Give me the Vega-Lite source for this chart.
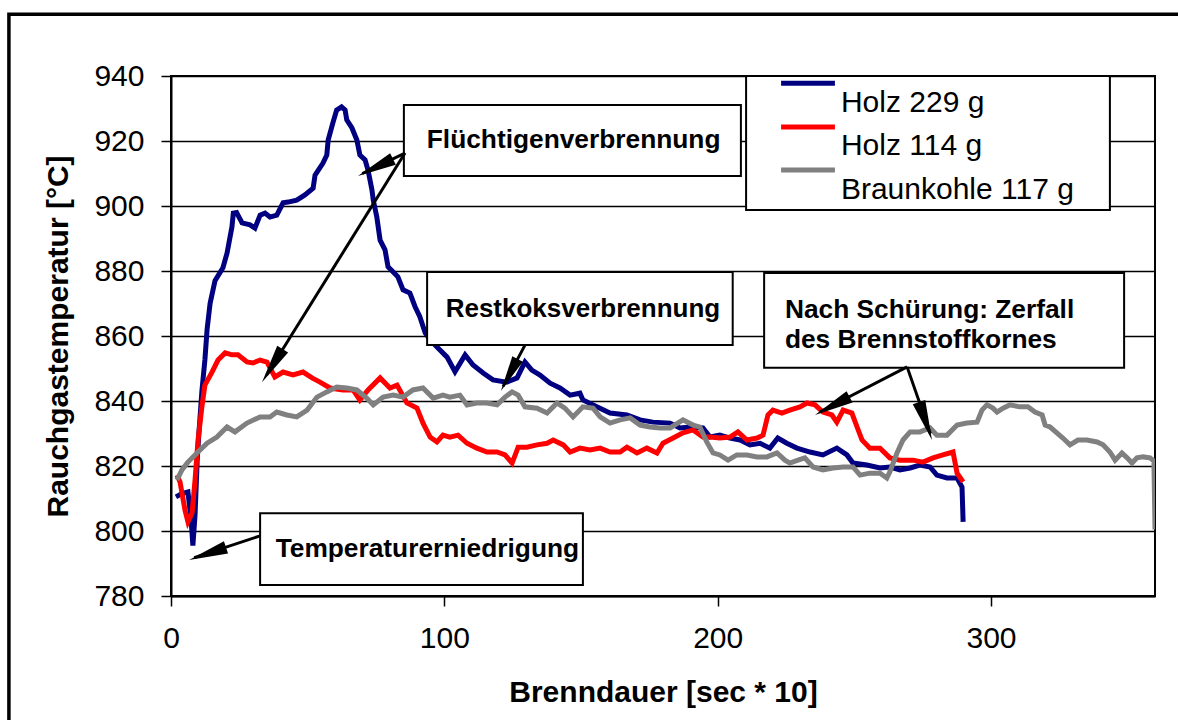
{
  "$schema": "https://vega.github.io/schema/vega-lite/v6.json",
  "width": 984,
  "height": 520,
  "autosize": {"type": "none"},
  "padding": {"left": 171, "top": 76, "right": 23, "bottom": 124},
  "background": "white",
  "config": {
    "view": {"stroke": "black", "strokeWidth": 2},
    "font": "Liberation Sans",
    "axis": {
      "labelFont": "Liberation Sans", "labelFontSize": 30, "labelColor": "black", "labelFlush": false,
      "titleFont": "Liberation Sans", "titleFontSize": 30, "titleFontWeight": "bold", "titleColor": "black",
      "domainColor": "black", "domainWidth": 2, "tickColor": "black", "tickWidth": 1.5, "tickSize": 10,
      "gridColor": "black", "gridWidth": 1.5, "gridOpacity": 1, "labelPadding": 17
    }
  },
  "data": {"values": [
    {"Serie":"Holz 229 g","t":1.8,"T":810.5},{"Serie":"Holz 229 g","t":4,"T":811.5},{"Serie":"Holz 229 g","t":6.2,"T":812},{"Serie":"Holz 229 g","t":7.4,"T":803},{"Serie":"Holz 229 g","t":8,"T":795.5},{"Serie":"Holz 229 g","t":8.8,"T":805},{"Serie":"Holz 229 g","t":9.6,"T":822},{"Serie":"Holz 229 g","t":10.2,"T":830},{"Serie":"Holz 229 g","t":11.3,"T":843},{"Serie":"Holz 229 g","t":12.4,"T":852.6},{"Serie":"Holz 229 g","t":13.2,"T":862},{"Serie":"Holz 229 g","t":14.3,"T":870},{"Serie":"Holz 229 g","t":16.1,"T":877},{"Serie":"Holz 229 g","t":19,"T":881},{"Serie":"Holz 229 g","t":20.5,"T":885.5},{"Serie":"Holz 229 g","t":22.3,"T":893.6},{"Serie":"Holz 229 g","t":22.8,"T":897.8},{"Serie":"Holz 229 g","t":24,"T":898},{"Serie":"Holz 229 g","t":26,"T":894.8},{"Serie":"Holz 229 g","t":28.9,"T":894.2},{"Serie":"Holz 229 g","t":30.7,"T":893.2},{"Serie":"Holz 229 g","t":32.6,"T":897.2},{"Serie":"Holz 229 g","t":34.4,"T":897.8},{"Serie":"Holz 229 g","t":36.2,"T":896.6},{"Serie":"Holz 229 g","t":38.7,"T":897.2},{"Serie":"Holz 229 g","t":41,"T":901},{"Serie":"Holz 229 g","t":42.8,"T":901.2},{"Serie":"Holz 229 g","t":46,"T":901.8},{"Serie":"Holz 229 g","t":49,"T":903.4},{"Serie":"Holz 229 g","t":52,"T":905.5},{"Serie":"Holz 229 g","t":52.7,"T":909.5},{"Serie":"Holz 229 g","t":55.6,"T":913.2},{"Serie":"Holz 229 g","t":57,"T":915.7},{"Serie":"Holz 229 g","t":57.5,"T":920.3},{"Serie":"Holz 229 g","t":59.3,"T":925.8},{"Serie":"Holz 229 g","t":60.6,"T":929.5},{"Serie":"Holz 229 g","t":62.4,"T":930.5},{"Serie":"Holz 229 g","t":63.7,"T":929.5},{"Serie":"Holz 229 g","t":64.3,"T":926.5},{"Serie":"Holz 229 g","t":66.2,"T":924},{"Serie":"Holz 229 g","t":68,"T":920.3},{"Serie":"Holz 229 g","t":69.1,"T":915.7},{"Serie":"Holz 229 g","t":71,"T":914.2},{"Serie":"Holz 229 g","t":72.1,"T":911},{"Serie":"Holz 229 g","t":73.5,"T":905},{"Serie":"Holz 229 g","t":74,"T":901.8},{"Serie":"Holz 229 g","t":75.3,"T":896.6},{"Serie":"Holz 229 g","t":76.5,"T":889.5},{"Serie":"Holz 229 g","t":78.3,"T":886.5},{"Serie":"Holz 229 g","t":79.4,"T":881.3},{"Serie":"Holz 229 g","t":81.3,"T":879.7},{"Serie":"Holz 229 g","t":83,"T":878.2},{"Serie":"Holz 229 g","t":84.9,"T":874.2},{"Serie":"Holz 229 g","t":87.4,"T":873.2},{"Serie":"Holz 229 g","t":89.3,"T":869},{"Serie":"Holz 229 g","t":91,"T":866},{"Serie":"Holz 229 g","t":93,"T":861},{"Serie":"Holz 229 g","t":94.8,"T":858.8},{"Serie":"Holz 229 g","t":98.4,"T":855.7},{"Serie":"Holz 229 g","t":101,"T":853.5},{"Serie":"Holz 229 g","t":103.9,"T":849},{"Serie":"Holz 229 g","t":107.6,"T":854.2},{"Serie":"Holz 229 g","t":110.5,"T":851.1},{"Serie":"Holz 229 g","t":114.2,"T":848.6},{"Serie":"Holz 229 g","t":117.8,"T":846.5},{"Serie":"Holz 229 g","t":122.8,"T":845.8},{"Serie":"Holz 229 g","t":126.6,"T":847.1},{"Serie":"Holz 229 g","t":129.5,"T":852},{"Serie":"Holz 229 g","t":132,"T":849.5},{"Serie":"Holz 229 g","t":135,"T":848},{"Serie":"Holz 229 g","t":138.7,"T":845.5},{"Serie":"Holz 229 g","t":142.3,"T":844},{"Serie":"Holz 229 g","t":146,"T":841.8},{"Serie":"Holz 229 g","t":149.6,"T":842.4},{"Serie":"Holz 229 g","t":150.7,"T":840.3},{"Serie":"Holz 229 g","t":155.8,"T":838.2},{"Serie":"Holz 229 g","t":160.6,"T":836.3},{"Serie":"Holz 229 g","t":166.8,"T":835.7},{"Serie":"Holz 229 g","t":171.6,"T":834.2},{"Serie":"Holz 229 g","t":176.3,"T":833.5},{"Serie":"Holz 229 g","t":182.6,"T":833.2},{"Serie":"Holz 229 g","t":186.2,"T":831.7},{"Serie":"Holz 229 g","t":189.9,"T":832},{"Serie":"Holz 229 g","t":194.6,"T":831.7},{"Serie":"Holz 229 g","t":197.2,"T":828.9},{"Serie":"Holz 229 g","t":200.8,"T":829.5},{"Serie":"Holz 229 g","t":204.5,"T":828.6},{"Serie":"Holz 229 g","t":208.2,"T":828},{"Serie":"Holz 229 g","t":211.8,"T":826.5},{"Serie":"Holz 229 g","t":215.5,"T":827},{"Serie":"Holz 229 g","t":219.1,"T":825.5},{"Serie":"Holz 229 g","t":222,"T":828.6},{"Serie":"Holz 229 g","t":225.3,"T":827},{"Serie":"Holz 229 g","t":229,"T":825.5},{"Serie":"Holz 229 g","t":233.8,"T":824.3},{"Serie":"Holz 229 g","t":238.5,"T":823.4},{"Serie":"Holz 229 g","t":243.6,"T":825.5},{"Serie":"Holz 229 g","t":247.3,"T":823.4},{"Serie":"Holz 229 g","t":249.5,"T":820.9},{"Serie":"Holz 229 g","t":254.6,"T":820.3},{"Serie":"Holz 229 g","t":259.4,"T":819.4},{"Serie":"Holz 229 g","t":263,"T":819.7},{"Serie":"Holz 229 g","t":266.7,"T":818.8},{"Serie":"Holz 229 g","t":270.4,"T":819.4},{"Serie":"Holz 229 g","t":274,"T":820.3},{"Serie":"Holz 229 g","t":277.7,"T":819.7},{"Serie":"Holz 229 g","t":280.2,"T":817.2},{"Serie":"Holz 229 g","t":283.9,"T":816.3},{"Serie":"Holz 229 g","t":287.6,"T":816.3},{"Serie":"Holz 229 g","t":289.4,"T":813.5},{"Serie":"Holz 229 g","t":289.8,"T":802.8},
    {"Serie":"Holz 114 g","t":2.2,"T":817.2},{"Serie":"Holz 114 g","t":3.3,"T":815.1},{"Serie":"Holz 114 g","t":5.1,"T":806.5},{"Serie":"Holz 114 g","t":6.2,"T":802.8},{"Serie":"Holz 114 g","t":7.7,"T":805.5},{"Serie":"Holz 114 g","t":8.8,"T":815.7},{"Serie":"Holz 114 g","t":9.9,"T":828},{"Serie":"Holz 114 g","t":11.3,"T":838.2},{"Serie":"Holz 114 g","t":12.4,"T":844.9},{"Serie":"Holz 114 g","t":15,"T":848.9},{"Serie":"Holz 114 g","t":17.2,"T":852.6},{"Serie":"Holz 114 g","t":19.8,"T":854.8},{"Serie":"Holz 114 g","t":22.3,"T":854.2},{"Serie":"Holz 114 g","t":24.5,"T":854.2},{"Serie":"Holz 114 g","t":27.8,"T":852},{"Serie":"Holz 114 g","t":30,"T":851.7},{"Serie":"Holz 114 g","t":32.6,"T":852.6},{"Serie":"Holz 114 g","t":35.1,"T":852},{"Serie":"Holz 114 g","t":38,"T":847.4},{"Serie":"Holz 114 g","t":41,"T":848.9},{"Serie":"Holz 114 g","t":44.6,"T":848},{"Serie":"Holz 114 g","t":48.3,"T":848.9},{"Serie":"Holz 114 g","t":51.6,"T":847.1},{"Serie":"Holz 114 g","t":54.5,"T":845.8},{"Serie":"Holz 114 g","t":58.2,"T":844},{"Serie":"Holz 114 g","t":62.9,"T":843.4},{"Serie":"Holz 114 g","t":66.6,"T":843.4},{"Serie":"Holz 114 g","t":69.1,"T":840.3},{"Serie":"Holz 114 g","t":72.1,"T":843.4},{"Serie":"Holz 114 g","t":76.5,"T":847.1},{"Serie":"Holz 114 g","t":80.1,"T":844},{"Serie":"Holz 114 g","t":82.7,"T":844.9},{"Serie":"Holz 114 g","t":86.3,"T":839.4},{"Serie":"Holz 114 g","t":90,"T":837.8},{"Serie":"Holz 114 g","t":92.2,"T":833.2},{"Serie":"Holz 114 g","t":94.8,"T":828.9},{"Serie":"Holz 114 g","t":97.3,"T":827.4},{"Serie":"Holz 114 g","t":99.5,"T":829.5},{"Serie":"Holz 114 g","t":102,"T":828.9},{"Serie":"Holz 114 g","t":105,"T":829.5},{"Serie":"Holz 114 g","t":108.3,"T":827},{"Serie":"Holz 114 g","t":111.9,"T":825.5},{"Serie":"Holz 114 g","t":115.6,"T":824.3},{"Serie":"Holz 114 g","t":119.3,"T":824.3},{"Serie":"Holz 114 g","t":122.2,"T":823.4},{"Serie":"Holz 114 g","t":124.8,"T":820.9},{"Serie":"Holz 114 g","t":127,"T":825.8},{"Serie":"Holz 114 g","t":130.2,"T":825.8},{"Serie":"Holz 114 g","t":133.9,"T":826.5},{"Serie":"Holz 114 g","t":137.6,"T":827},{"Serie":"Holz 114 g","t":139.8,"T":828},{"Serie":"Holz 114 g","t":143.5,"T":826.5},{"Serie":"Holz 114 g","t":146,"T":824.3},{"Serie":"Holz 114 g","t":149.6,"T":825.5},{"Serie":"Holz 114 g","t":153.3,"T":824.9},{"Serie":"Holz 114 g","t":157,"T":825.5},{"Serie":"Holz 114 g","t":160.6,"T":824.3},{"Serie":"Holz 114 g","t":164.3,"T":824.3},{"Serie":"Holz 114 g","t":166.8,"T":825.8},{"Serie":"Holz 114 g","t":170.5,"T":824},{"Serie":"Holz 114 g","t":174.1,"T":825.5},{"Serie":"Holz 114 g","t":177.8,"T":824},{"Serie":"Holz 114 g","t":180,"T":827},{"Serie":"Holz 114 g","t":183.7,"T":828.6},{"Serie":"Holz 114 g","t":187.3,"T":830.2},{"Serie":"Holz 114 g","t":191,"T":831.1},{"Serie":"Holz 114 g","t":194.6,"T":828.9},{"Serie":"Holz 114 g","t":197.2,"T":828.9},{"Serie":"Holz 114 g","t":200.8,"T":828.6},{"Serie":"Holz 114 g","t":204.5,"T":828.9},{"Serie":"Holz 114 g","t":207.4,"T":830.5},{"Serie":"Holz 114 g","t":210.7,"T":828},{"Serie":"Holz 114 g","t":214.4,"T":828.6},{"Serie":"Holz 114 g","t":216.6,"T":829.5},{"Serie":"Holz 114 g","t":218.4,"T":835.7},{"Serie":"Holz 114 g","t":220.2,"T":837.2},{"Serie":"Holz 114 g","t":223.5,"T":836.3},{"Serie":"Holz 114 g","t":226.4,"T":837.2},{"Serie":"Holz 114 g","t":230.1,"T":838.2},{"Serie":"Holz 114 g","t":232.7,"T":839.4},{"Serie":"Holz 114 g","t":235.6,"T":838.8},{"Serie":"Holz 114 g","t":238.5,"T":836.6},{"Serie":"Holz 114 g","t":241.8,"T":835.7},{"Serie":"Holz 114 g","t":243.6,"T":833.5},{"Serie":"Holz 114 g","t":245.9,"T":837.2},{"Serie":"Holz 114 g","t":249.1,"T":836.3},{"Serie":"Holz 114 g","t":251,"T":832},{"Serie":"Holz 114 g","t":252.8,"T":828},{"Serie":"Holz 114 g","t":255.7,"T":825.5},{"Serie":"Holz 114 g","t":259.4,"T":825.5},{"Serie":"Holz 114 g","t":263,"T":822.5},{"Serie":"Holz 114 g","t":266.7,"T":821.8},{"Serie":"Holz 114 g","t":271.5,"T":821.8},{"Serie":"Holz 114 g","t":275.1,"T":821.2},{"Serie":"Holz 114 g","t":278.8,"T":822.5},{"Serie":"Holz 114 g","t":282.4,"T":823.4},{"Serie":"Holz 114 g","t":286.1,"T":824.3},{"Serie":"Holz 114 g","t":287.6,"T":817.8},{"Serie":"Holz 114 g","t":289.8,"T":815.1},
    {"Serie":"Braunkohle 117 g","t":2.2,"T":815.7},{"Serie":"Braunkohle 117 g","t":4,"T":818.8},{"Serie":"Braunkohle 117 g","t":6.2,"T":821.2},{"Serie":"Braunkohle 117 g","t":9.5,"T":824},{"Serie":"Braunkohle 117 g","t":13.2,"T":827},{"Serie":"Braunkohle 117 g","t":16.8,"T":828.9},{"Serie":"Braunkohle 117 g","t":20.5,"T":832},{"Serie":"Braunkohle 117 g","t":23.4,"T":830.5},{"Serie":"Braunkohle 117 g","t":27.8,"T":833.2},{"Serie":"Braunkohle 117 g","t":32.6,"T":835.1},{"Serie":"Braunkohle 117 g","t":36.2,"T":835.1},{"Serie":"Braunkohle 117 g","t":38.7,"T":836.6},{"Serie":"Braunkohle 117 g","t":42.4,"T":835.7},{"Serie":"Braunkohle 117 g","t":46,"T":835.1},{"Serie":"Braunkohle 117 g","t":49.8,"T":837.2},{"Serie":"Braunkohle 117 g","t":53.4,"T":841.2},{"Serie":"Braunkohle 117 g","t":57,"T":842.8},{"Serie":"Braunkohle 117 g","t":60.6,"T":844.3},{"Serie":"Braunkohle 117 g","t":64.3,"T":844},{"Serie":"Braunkohle 117 g","t":68,"T":843.4},{"Serie":"Braunkohle 117 g","t":71.6,"T":840.9},{"Serie":"Braunkohle 117 g","t":74,"T":838.8},{"Serie":"Braunkohle 117 g","t":77.6,"T":841.2},{"Serie":"Braunkohle 117 g","t":81.3,"T":841.8},{"Serie":"Braunkohle 117 g","t":84.9,"T":841.2},{"Serie":"Braunkohle 117 g","t":88.5,"T":843.4},{"Serie":"Braunkohle 117 g","t":92.2,"T":844},{"Serie":"Braunkohle 117 g","t":95.9,"T":840.9},{"Serie":"Braunkohle 117 g","t":99.5,"T":841.8},{"Serie":"Braunkohle 117 g","t":102,"T":841.2},{"Serie":"Braunkohle 117 g","t":105.7,"T":841.8},{"Serie":"Braunkohle 117 g","t":108.3,"T":838.8},{"Serie":"Braunkohle 117 g","t":111.9,"T":839.4},{"Serie":"Braunkohle 117 g","t":115.6,"T":839.4},{"Serie":"Braunkohle 117 g","t":119.3,"T":838.8},{"Serie":"Braunkohle 117 g","t":122.2,"T":841.2},{"Serie":"Braunkohle 117 g","t":124.8,"T":842.8},{"Serie":"Braunkohle 117 g","t":127,"T":841.8},{"Serie":"Braunkohle 117 g","t":129.5,"T":838.2},{"Serie":"Braunkohle 117 g","t":133.9,"T":837.8},{"Serie":"Braunkohle 117 g","t":137.6,"T":836.3},{"Serie":"Braunkohle 117 g","t":141.2,"T":839.4},{"Serie":"Braunkohle 117 g","t":144.1,"T":837.8},{"Serie":"Braunkohle 117 g","t":147.1,"T":835.1},{"Serie":"Braunkohle 117 g","t":150.7,"T":838.2},{"Serie":"Braunkohle 117 g","t":154.4,"T":837.8},{"Serie":"Braunkohle 117 g","t":157,"T":835.1},{"Serie":"Braunkohle 117 g","t":160.6,"T":833.2},{"Serie":"Braunkohle 117 g","t":164.3,"T":834.2},{"Serie":"Braunkohle 117 g","t":168,"T":834.8},{"Serie":"Braunkohle 117 g","t":171.6,"T":832.6},{"Serie":"Braunkohle 117 g","t":175.2,"T":832},{"Serie":"Braunkohle 117 g","t":178.9,"T":831.7},{"Serie":"Braunkohle 117 g","t":182.6,"T":831.7},{"Serie":"Braunkohle 117 g","t":187.3,"T":834.2},{"Serie":"Braunkohle 117 g","t":191,"T":832.6},{"Serie":"Braunkohle 117 g","t":193.5,"T":832},{"Serie":"Braunkohle 117 g","t":196,"T":827.4},{"Serie":"Braunkohle 117 g","t":198.3,"T":824},{"Serie":"Braunkohle 117 g","t":200.8,"T":823.4},{"Serie":"Braunkohle 117 g","t":203.8,"T":821.8},{"Serie":"Braunkohle 117 g","t":207,"T":823.4},{"Serie":"Braunkohle 117 g","t":210.7,"T":823.4},{"Serie":"Braunkohle 117 g","t":214.4,"T":822.8},{"Serie":"Braunkohle 117 g","t":218,"T":822.8},{"Serie":"Braunkohle 117 g","t":221.7,"T":824},{"Serie":"Braunkohle 117 g","t":224.6,"T":821.8},{"Serie":"Braunkohle 117 g","t":226.4,"T":820.9},{"Serie":"Braunkohle 117 g","t":229.4,"T":821.8},{"Serie":"Braunkohle 117 g","t":231.9,"T":822.5},{"Serie":"Braunkohle 117 g","t":234.9,"T":819.7},{"Serie":"Braunkohle 117 g","t":238.5,"T":818.8},{"Serie":"Braunkohle 117 g","t":242.2,"T":819.4},{"Serie":"Braunkohle 117 g","t":245.9,"T":819.7},{"Serie":"Braunkohle 117 g","t":249.5,"T":819.7},{"Serie":"Braunkohle 117 g","t":252.1,"T":817.2},{"Serie":"Braunkohle 117 g","t":255.7,"T":817.8},{"Serie":"Braunkohle 117 g","t":259.4,"T":817.8},{"Serie":"Braunkohle 117 g","t":261.9,"T":816.3},{"Serie":"Braunkohle 117 g","t":263,"T":818.2},{"Serie":"Braunkohle 117 g","t":265.6,"T":824},{"Serie":"Braunkohle 117 g","t":267.8,"T":828},{"Serie":"Braunkohle 117 g","t":270.4,"T":830.5},{"Serie":"Braunkohle 117 g","t":274,"T":830.5},{"Serie":"Braunkohle 117 g","t":277.7,"T":831.7},{"Serie":"Braunkohle 117 g","t":280.2,"T":829.5},{"Serie":"Braunkohle 117 g","t":283.9,"T":829.5},{"Serie":"Braunkohle 117 g","t":287.6,"T":832.6},{"Serie":"Braunkohle 117 g","t":291.2,"T":833.2},{"Serie":"Braunkohle 117 g","t":294.9,"T":833.5},{"Serie":"Braunkohle 117 g","t":296.7,"T":837.2},{"Serie":"Braunkohle 117 g","t":298.5,"T":838.8},{"Serie":"Braunkohle 117 g","t":300.7,"T":837.8},{"Serie":"Braunkohle 117 g","t":302.2,"T":836.6},{"Serie":"Braunkohle 117 g","t":304.4,"T":837.8},{"Serie":"Braunkohle 117 g","t":306.9,"T":838.8},{"Serie":"Braunkohle 117 g","t":310.6,"T":838.2},{"Serie":"Braunkohle 117 g","t":313.5,"T":838.2},{"Serie":"Braunkohle 117 g","t":316.1,"T":836.6},{"Serie":"Braunkohle 117 g","t":318.7,"T":835.7},{"Serie":"Braunkohle 117 g","t":319.8,"T":832.6},{"Serie":"Braunkohle 117 g","t":321.6,"T":832},{"Serie":"Braunkohle 117 g","t":324.1,"T":830.2},{"Serie":"Braunkohle 117 g","t":326.3,"T":828.6},{"Serie":"Braunkohle 117 g","t":328.9,"T":826.5},{"Serie":"Braunkohle 117 g","t":331.8,"T":828},{"Serie":"Braunkohle 117 g","t":335.1,"T":828},{"Serie":"Braunkohle 117 g","t":338.8,"T":827.4},{"Serie":"Braunkohle 117 g","t":341,"T":826.5},{"Serie":"Braunkohle 117 g","t":343.5,"T":824.3},{"Serie":"Braunkohle 117 g","t":345.4,"T":821.8},{"Serie":"Braunkohle 117 g","t":347.9,"T":824},{"Serie":"Braunkohle 117 g","t":349.8,"T":822.5},{"Serie":"Braunkohle 117 g","t":351.6,"T":820.9},{"Serie":"Braunkohle 117 g","t":353.4,"T":822.5},{"Serie":"Braunkohle 117 g","t":355.6,"T":822.8},{"Serie":"Braunkohle 117 g","t":358.2,"T":822.5},{"Serie":"Braunkohle 117 g","t":359.6,"T":821.5},{"Serie":"Braunkohle 117 g","t":360,"T":800.5}
  ]},
  "layer": [
    {
      "data": {"values": [{}]},
      "mark": {"type": "rect", "fill": null, "fillOpacity": 0, "stroke": "black", "strokeWidth": 3.5, "clip": false},
      "encoding": {
        "x": {"datum": -59.3, "type": "quantitative"}, "x2": {"datum": 373},
        "y": {"datum": 959, "type": "quantitative"}, "y2": {"datum": 735}
      }
    },
    {
      "mark": {"type": "line", "strokeWidth": 5, "clip": true},
      "encoding": {
        "x": {"field": "t", "type": "quantitative", "scale": {"domain": [0, 360], "nice": false, "zero": false},
              "axis": {"values": [0, 100, 200, 300], "grid": false, "title": "Brenndauer [sec * 10]", "titlePadding": 24}},
        "y": {"field": "T", "type": "quantitative", "scale": {"domain": [780, 940], "nice": false, "zero": false},
              "axis": {"values": [780, 800, 820, 840, 860, 880, 900, 920, 940], "grid": true, "title": "Rauchgastemperatur [°C]", "titlePadding": 20}},
        "color": {"field": "Serie", "type": "nominal",
                  "scale": {"domain": ["Holz 229 g", "Holz 114 g", "Braunkohle 117 g"], "range": ["#000080", "#FF0000", "#808080"]},
                  "legend": null},
        "order": {"field": "t", "type": "quantitative"}
      }
    },
    {
      "data": {"values": [{}]},
      "mark": {"type": "rect", "fill": "white", "stroke": "black", "strokeWidth": 2},
      "encoding": {"x": {"datum": 210.4, "type": "quantitative"}, "x2": {"datum": 343.5}, "y": {"datum": 940, "type": "quantitative"}, "y2": {"datum": 898.8}}
    },
    {
      "data": {"values": [{}]},
      "mark": {"type": "rule", "stroke": "#000080", "strokeWidth": 5},
      "encoding": {"x": {"datum": 223.2, "type": "quantitative"}, "x2": {"datum": 242.9}, "y": {"datum": 937.8, "type": "quantitative"}}
    },
    {
      "data": {"values": [{}]},
      "mark": {"type": "rule", "stroke": "#FF0000", "strokeWidth": 5},
      "encoding": {"x": {"datum": 223.2, "type": "quantitative"}, "x2": {"datum": 242.9}, "y": {"datum": 924.3, "type": "quantitative"}}
    },
    {
      "data": {"values": [{}]},
      "mark": {"type": "rule", "stroke": "#808080", "strokeWidth": 5},
      "encoding": {"x": {"datum": 223.2, "type": "quantitative"}, "x2": {"datum": 242.9}, "y": {"datum": 911.1, "type": "quantitative"}}
    },
    {
      "data": {"values": [{}]},
      "mark": {"type": "text", "text": "Holz 229 g", "font": "Liberation Sans", "fontSize": 30, "align": "left", "baseline": "middle", "color": "black"},
      "encoding": {"x": {"datum": 245.1, "type": "quantitative"}, "y": {"datum": 931.8, "type": "quantitative"}}
    },
    {
      "data": {"values": [{}]},
      "mark": {"type": "text", "text": "Holz 114 g", "font": "Liberation Sans", "fontSize": 30, "align": "left", "baseline": "middle", "color": "black"},
      "encoding": {"x": {"datum": 245.1, "type": "quantitative"}, "y": {"datum": 918.4, "type": "quantitative"}}
    },
    {
      "data": {"values": [{}]},
      "mark": {"type": "text", "text": "Braunkohle 117 g", "font": "Liberation Sans", "fontSize": 30, "align": "left", "baseline": "middle", "color": "black"},
      "encoding": {"x": {"datum": 245.1, "type": "quantitative"}, "y": {"datum": 905, "type": "quantitative"}}
    },
    {
      "data": {"values": [{}]},
      "mark": {"type": "rect", "fill": "white", "stroke": "black", "strokeWidth": 2},
      "encoding": {"x": {"datum": 85.2, "type": "quantitative"}, "x2": {"datum": 208.5}, "y": {"datum": 931.1, "type": "quantitative"}, "y2": {"datum": 909.2}}
    },
    {
      "data": {"values": [{}]},
      "mark": {"type": "rect", "fill": "white", "stroke": "black", "strokeWidth": 2},
      "encoding": {"x": {"datum": 93.7, "type": "quantitative"}, "x2": {"datum": 205.5}, "y": {"datum": 879.7, "type": "quantitative"}, "y2": {"datum": 857.2}}
    },
    {
      "data": {"values": [{}]},
      "mark": {"type": "rect", "fill": "white", "stroke": "black", "strokeWidth": 2},
      "encoding": {"x": {"datum": 217, "type": "quantitative"}, "x2": {"datum": 348.7}, "y": {"datum": 879.4, "type": "quantitative"}, "y2": {"datum": 850.2}}
    },
    {
      "data": {"values": [{}]},
      "mark": {"type": "rect", "fill": "white", "stroke": "black", "strokeWidth": 2},
      "encoding": {"x": {"datum": 32.6, "type": "quantitative"}, "x2": {"datum": 150.7}, "y": {"datum": 805.5, "type": "quantitative"}, "y2": {"datum": 783.4}}
    },
    {
      "data": {"values": [{}]},
      "mark": {"type": "text", "text": "Flüchtigenverbrennung", "font": "Liberation Sans", "fontWeight": "bold", "fontSize": 26.3, "align": "center", "baseline": "middle", "color": "black"},
      "encoding": {"x": {"datum": 147.3, "type": "quantitative"}, "y": {"datum": 920.3, "type": "quantitative"}}
    },
    {
      "data": {"values": [{}]},
      "mark": {"type": "text", "text": "Restkoksverbrennung", "font": "Liberation Sans", "fontWeight": "bold", "fontSize": 26, "align": "center", "baseline": "middle", "color": "black"},
      "encoding": {"x": {"datum": 150.7, "type": "quantitative"}, "y": {"datum": 868.3, "type": "quantitative"}}
    },
    {
      "data": {"values": [{}]},
      "mark": {"type": "text", "text": ["Nach Schürung: Zerfall", "des Brennstoffkornes"], "lineHeight": 30, "font": "Liberation Sans", "fontWeight": "bold", "fontSize": 26.3, "align": "left", "baseline": "middle", "color": "black"},
      "encoding": {"x": {"datum": 224.6, "type": "quantitative"}, "y": {"datum": 868, "type": "quantitative"}}
    },
    {
      "data": {"values": [{}]},
      "mark": {"type": "text", "text": "Temperaturerniedrigung", "font": "Liberation Sans", "fontWeight": "bold", "fontSize": 26.3, "align": "center", "baseline": "middle", "color": "black"},
      "encoding": {"x": {"datum": 93.8, "type": "quantitative"}, "y": {"datum": 794.5, "type": "quantitative"}}
    },
    {
      "data": {"values": [{}]},
      "mark": {"type": "rule", "stroke": "black", "strokeWidth": 3},
      "encoding": {"x": {"datum": 85.6, "type": "quantitative"}, "y": {"datum": 916.3, "type": "quantitative"}, "x2": {"datum": 70}, "y2": {"datum": 910}}
    },
    {
      "data": {"values": [{}]},
      "mark": {"type": "rule", "stroke": "black", "strokeWidth": 3},
      "encoding": {"x": {"datum": 85.6, "type": "quantitative"}, "y": {"datum": 916.3, "type": "quantitative"}, "x2": {"datum": 35}, "y2": {"datum": 848}}
    },
    {
      "data": {"values": [{}]},
      "mark": {"type": "rule", "stroke": "black", "strokeWidth": 3},
      "encoding": {"x": {"datum": 129.5, "type": "quantitative"}, "y": {"datum": 857.2, "type": "quantitative"}, "x2": {"datum": 121.5}, "y2": {"datum": 844.5}}
    },
    {
      "data": {"values": [{}]},
      "mark": {"type": "rule", "stroke": "black", "strokeWidth": 3},
      "encoding": {"x": {"datum": 269.3, "type": "quantitative"}, "y": {"datum": 850.5, "type": "quantitative"}, "x2": {"datum": 237.5}, "y2": {"datum": 836.7}}
    },
    {
      "data": {"values": [{}]},
      "mark": {"type": "rule", "stroke": "black", "strokeWidth": 3},
      "encoding": {"x": {"datum": 269.3, "type": "quantitative"}, "y": {"datum": 850.5, "type": "quantitative"}, "x2": {"datum": 277.8}, "y2": {"datum": 830}}
    },
    {
      "data": {"values": [{}]},
      "mark": {"type": "rule", "stroke": "black", "strokeWidth": 3},
      "encoding": {"x": {"datum": 32.6, "type": "quantitative"}, "y": {"datum": 798.5, "type": "quantitative"}, "x2": {"datum": 8.5}, "y2": {"datum": 791.8}}
    },
    {
      "data": {"values": [{}]},
      "mark": {"type": "point", "shape": "M0,0L0.33,2L-0.33,2Z", "filled": true, "color": "black", "opacity": 1, "size": 1521, "angle": 243.9},
      "encoding": {"x": {"datum": 68.4, "type": "quantitative"}, "y": {"datum": 909.2, "type": "quantitative"}}
    },
    {
      "data": {"values": [{}]},
      "mark": {"type": "point", "shape": "M0,0L0.33,2L-0.33,2Z", "filled": true, "color": "black", "opacity": 1, "size": 1521, "angle": 212},
      "encoding": {"x": {"datum": 33.3, "type": "quantitative"}, "y": {"datum": 845.8, "type": "quantitative"}}
    },
    {
      "data": {"values": [{}]},
      "mark": {"type": "point", "shape": "M0,0L0.33,2L-0.33,2Z", "filled": true, "color": "black", "opacity": 1, "size": 1296, "angle": 207.6},
      "encoding": {"x": {"datum": 120.7, "type": "quantitative"}, "y": {"datum": 843.1, "type": "quantitative"}}
    },
    {
      "data": {"values": [{}]},
      "mark": {"type": "point", "shape": "M0,0L0.33,2L-0.33,2Z", "filled": true, "color": "black", "opacity": 1, "size": 1521, "angle": 242.4},
      "encoding": {"x": {"datum": 235.6, "type": "quantitative"}, "y": {"datum": 835.7, "type": "quantitative"}}
    },
    {
      "data": {"values": [{}]},
      "mark": {"type": "point", "shape": "M0,0L0.33,2L-0.33,2Z", "filled": true, "color": "black", "opacity": 1, "size": 1600, "angle": 161.1},
      "encoding": {"x": {"datum": 278.4, "type": "quantitative"}, "y": {"datum": 828, "type": "quantitative"}}
    },
    {
      "data": {"values": [{}]},
      "mark": {"type": "point", "shape": "M0,0L0.33,2L-0.33,2Z", "filled": true, "color": "black", "opacity": 1, "size": 1521, "angle": 251.3},
      "encoding": {"x": {"datum": 6.6, "type": "quantitative"}, "y": {"datum": 791.1, "type": "quantitative"}}
    }
  ]
}
